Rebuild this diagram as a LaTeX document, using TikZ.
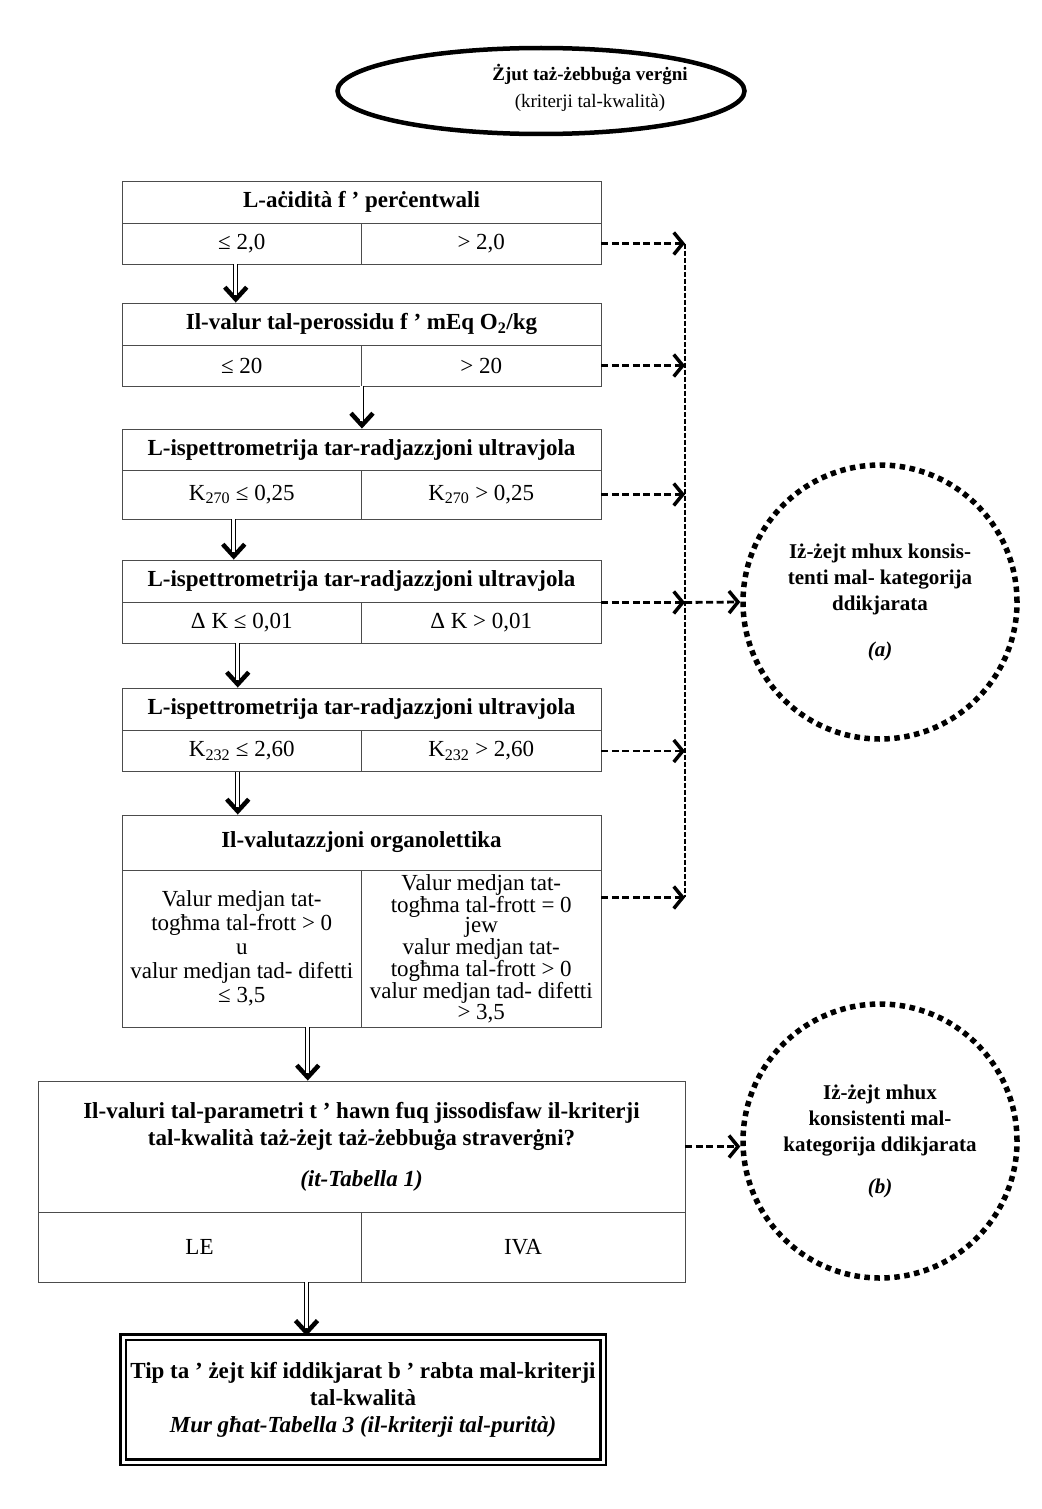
\documentclass[tikz,border=0pt]{standalone}
\usepackage{fontspec}
\setmainfont{Liberation Serif}
\usetikzlibrary{arrows.meta,shapes.geometric}
\newcommand{\fs}{\fontsize{23}{27}\selectfont}
\tikzset{
  head/.style={draw=black!70,line width=0.9pt,minimum width=479pt,minimum height=42pt,inner sep=0pt,font=\fs\bfseries},
  cell/.style={draw=black!70,line width=0.9pt,minimum width=239.5pt,minimum height=41pt,inner sep=0pt,font=\fs},
  flow/.style={preaction={draw,line width=1pt,shorten >=0pt,-{Straight Barb[length=12pt,width=22pt,line width=4.5pt]}},
    double,double distance=3pt,line width=0.8pt,shorten >=8pt},
  reject/.style={line width=2.8pt,dash pattern=on 7pt off 3.5pt,-{Straight Barb[length=9pt,width=22pt,line width=3.5pt]}},
  bad/.style={circle,draw,line width=5.5pt,dash pattern=on 5.5pt off 4.5pt,minimum size=274pt,inner sep=0pt,align=center,font=\fontsize{21}{26}\selectfont\bfseries}
}
\begin{document}
\begin{tikzpicture}[x=1pt,y=-1pt]
  \useasboundingbox (0,0) rectangle (1041,1509);
  % title
  \node[ellipse,draw,line width=4.5pt,minimum width=407pt,minimum height=86pt] (title) at (541,91) {};
  \node[align=center,font=\fontsize{19}{27}\selectfont] (titletext) at (590,88) {\textbf{Żjut taż-żebbuġa verġni}\\(kriterji tal-kwalità)};
  % acidity
  \node[head] (acid) at (361.5,202) {L-aċidità f ’ perċentwali};
  \node[cell] (acidle) at (241.75,243.5) {≤ 2,0};
  \node[cell] (acidgt) at (481.25,243.5) {> 2,0};
  % peroxide
  \node[head] (perox) at (361.5,324) {Il-valur tal-perossidu f ’ mEq O\textsubscript{2}/kg};
  \node[cell] (peroxle) at (241.75,365.5) {≤ 20};
  \node[cell] (peroxgt) at (481.25,365.5) {> 20};
  % K270
  \node[head,minimum height=41pt] (uvone) at (361.5,449.5) {L-ispettrometrija tar-radjazzjoni ultravjola};
  \node[cell,minimum height=49pt] (uvonele) at (241.75,494.5) {K\textsubscript{270} ≤ 0,25};
  \node[cell,minimum height=49pt] (uvonegt) at (481.25,494.5) {K\textsubscript{270} > 0,25};
  % delta K
  \node[head] (uvtwo) at (361.5,581) {L-ispettrometrija tar-radjazzjoni ultravjola};
  \node[cell] (uvtwole) at (241.75,622.5) {Δ K ≤ 0,01};
  \node[cell] (uvtwogt) at (481.25,622.5) {Δ K > 0,01};
  % K232
  \node[head] (uvthree) at (361.5,709) {L-ispettrometrija tar-radjazzjoni ultravjola};
  \node[cell] (uvthreele) at (241.75,751) {K\textsubscript{232} ≤ 2,60};
  \node[cell] (uvthreegt) at (481.25,751) {K\textsubscript{232} > 2,60};
  % organoleptic
  \node[head,minimum height=55pt] (organo) at (361.5,842.5) {Il-valutazzjoni organolettika};
  \node[cell,minimum height=157pt,align=center,font=\fontsize{23}{24}\selectfont] (organole) at (241.75,948.5)
    {Valur medjan tat-\\togħma tal-frott > 0\\u\\valur medjan tad- difetti\\≤ 3,5};
  \node[cell,minimum height=157pt,align=center,font=\fontsize{23}{20.5}\selectfont] (organogt) at (481.25,948.5)
    {Valur medjan tat-\\togħma tal-frott = 0\\jew\\valur medjan tat-\\togħma tal-frott > 0\\valur medjan tad- difetti\\> 3,5};
  % question
  \node[head,minimum width=647pt,minimum height=131pt,align=center] (quest) at (361.5,1146.5)
    {Il-valuri tal-parametri t ’ hawn fuq jissodisfaw il-kriterji\\tal-kwalità taż-żejt taż-żebbuġa straverġni?\\[14pt]\textit{(it-Tabella 1)}};
  \node[cell,minimum width=323pt,minimum height=70pt] (questno) at (199.5,1247) {LE};
  \node[cell,minimum width=324pt,minimum height=70pt] (questyes) at (523,1247) {IVA};
  % result
  \node[draw,line width=2.2pt,double,double distance=3pt,minimum width=480pt,minimum height=125pt,align=center,font=\fs\bfseries] (result) at (363,1399.5)
    {Tip ta ’ żejt kif iddikjarat b ’ rabta mal-kriterji\\tal-kwalità\\\textit{Mur għat-Tabella 3 (il-kriterji tal-purità)}};
  % rejections
  \node[bad] (nota) at (880,602) {Iż-żejt mhux konsis-\\tenti mal- kategorija\\ddikjarata\\[20pt]\textit{(a)}};
  \node[bad] (notb) at (880,1141) {Iż-żejt mhux\\konsistenti mal-\\kategorija ddikjarata\\[16pt]\textit{(b)}};
  \coordinate (coltop) at (685,243.5);
  \coordinate (colbot) at (685,897);
  % main flow
  \draw[flow] ([xshift=-6pt]acidle.south) -- ([xshift=-6pt]acidle.south |- perox.north);
  \draw[flow] (peroxle.south east) -- (peroxle.south east |- uvone.north);
  \draw[flow] ([xshift=-8pt]uvonele.south) -- ([xshift=-8pt]uvonele.south |- uvtwo.north);
  \draw[flow] ([xshift=-4pt]uvtwole.south) -- ([xshift=-4pt]uvtwole.south |- uvthree.north);
  \draw[flow] ([xshift=-4pt]uvthreele.south) -- ([xshift=-4pt]uvthreele.south |- organo.north);
  \draw[flow] ([xshift=66pt]organole.south) -- ([xshift=66pt]organole.south |- quest.north);
  \draw[flow] ([xshift=107pt]questno.south) -- ([xshift=107pt]questno.south |- result.north);
  % dashed side branch
  \draw[line width=1.8pt,dash pattern=on 5pt off 2pt] (coltop) -- (colbot);
  \draw[reject] (acidgt.east) -- (acidgt.east -| coltop);
  \draw[reject] (peroxgt.east) -- (peroxgt.east -| coltop);
  \draw[reject] (uvonegt.east) -- (uvonegt.east -| coltop);
  \draw[reject] (uvtwo.south east) -- (uvtwo.south east -| coltop);
  \draw[reject] (uvthreegt.east) -- (uvthreegt.east -| coltop);
  \draw[reject] ([yshift=51pt]organogt.east) -- ([yshift=51pt]organogt.east -| coltop);
  \draw[reject] (uvtwo.south east -| coltop) -- (nota.west);
  \draw[reject] (quest.east) -- (quest.east -| notb.west);
\end{tikzpicture}
\end{document}
